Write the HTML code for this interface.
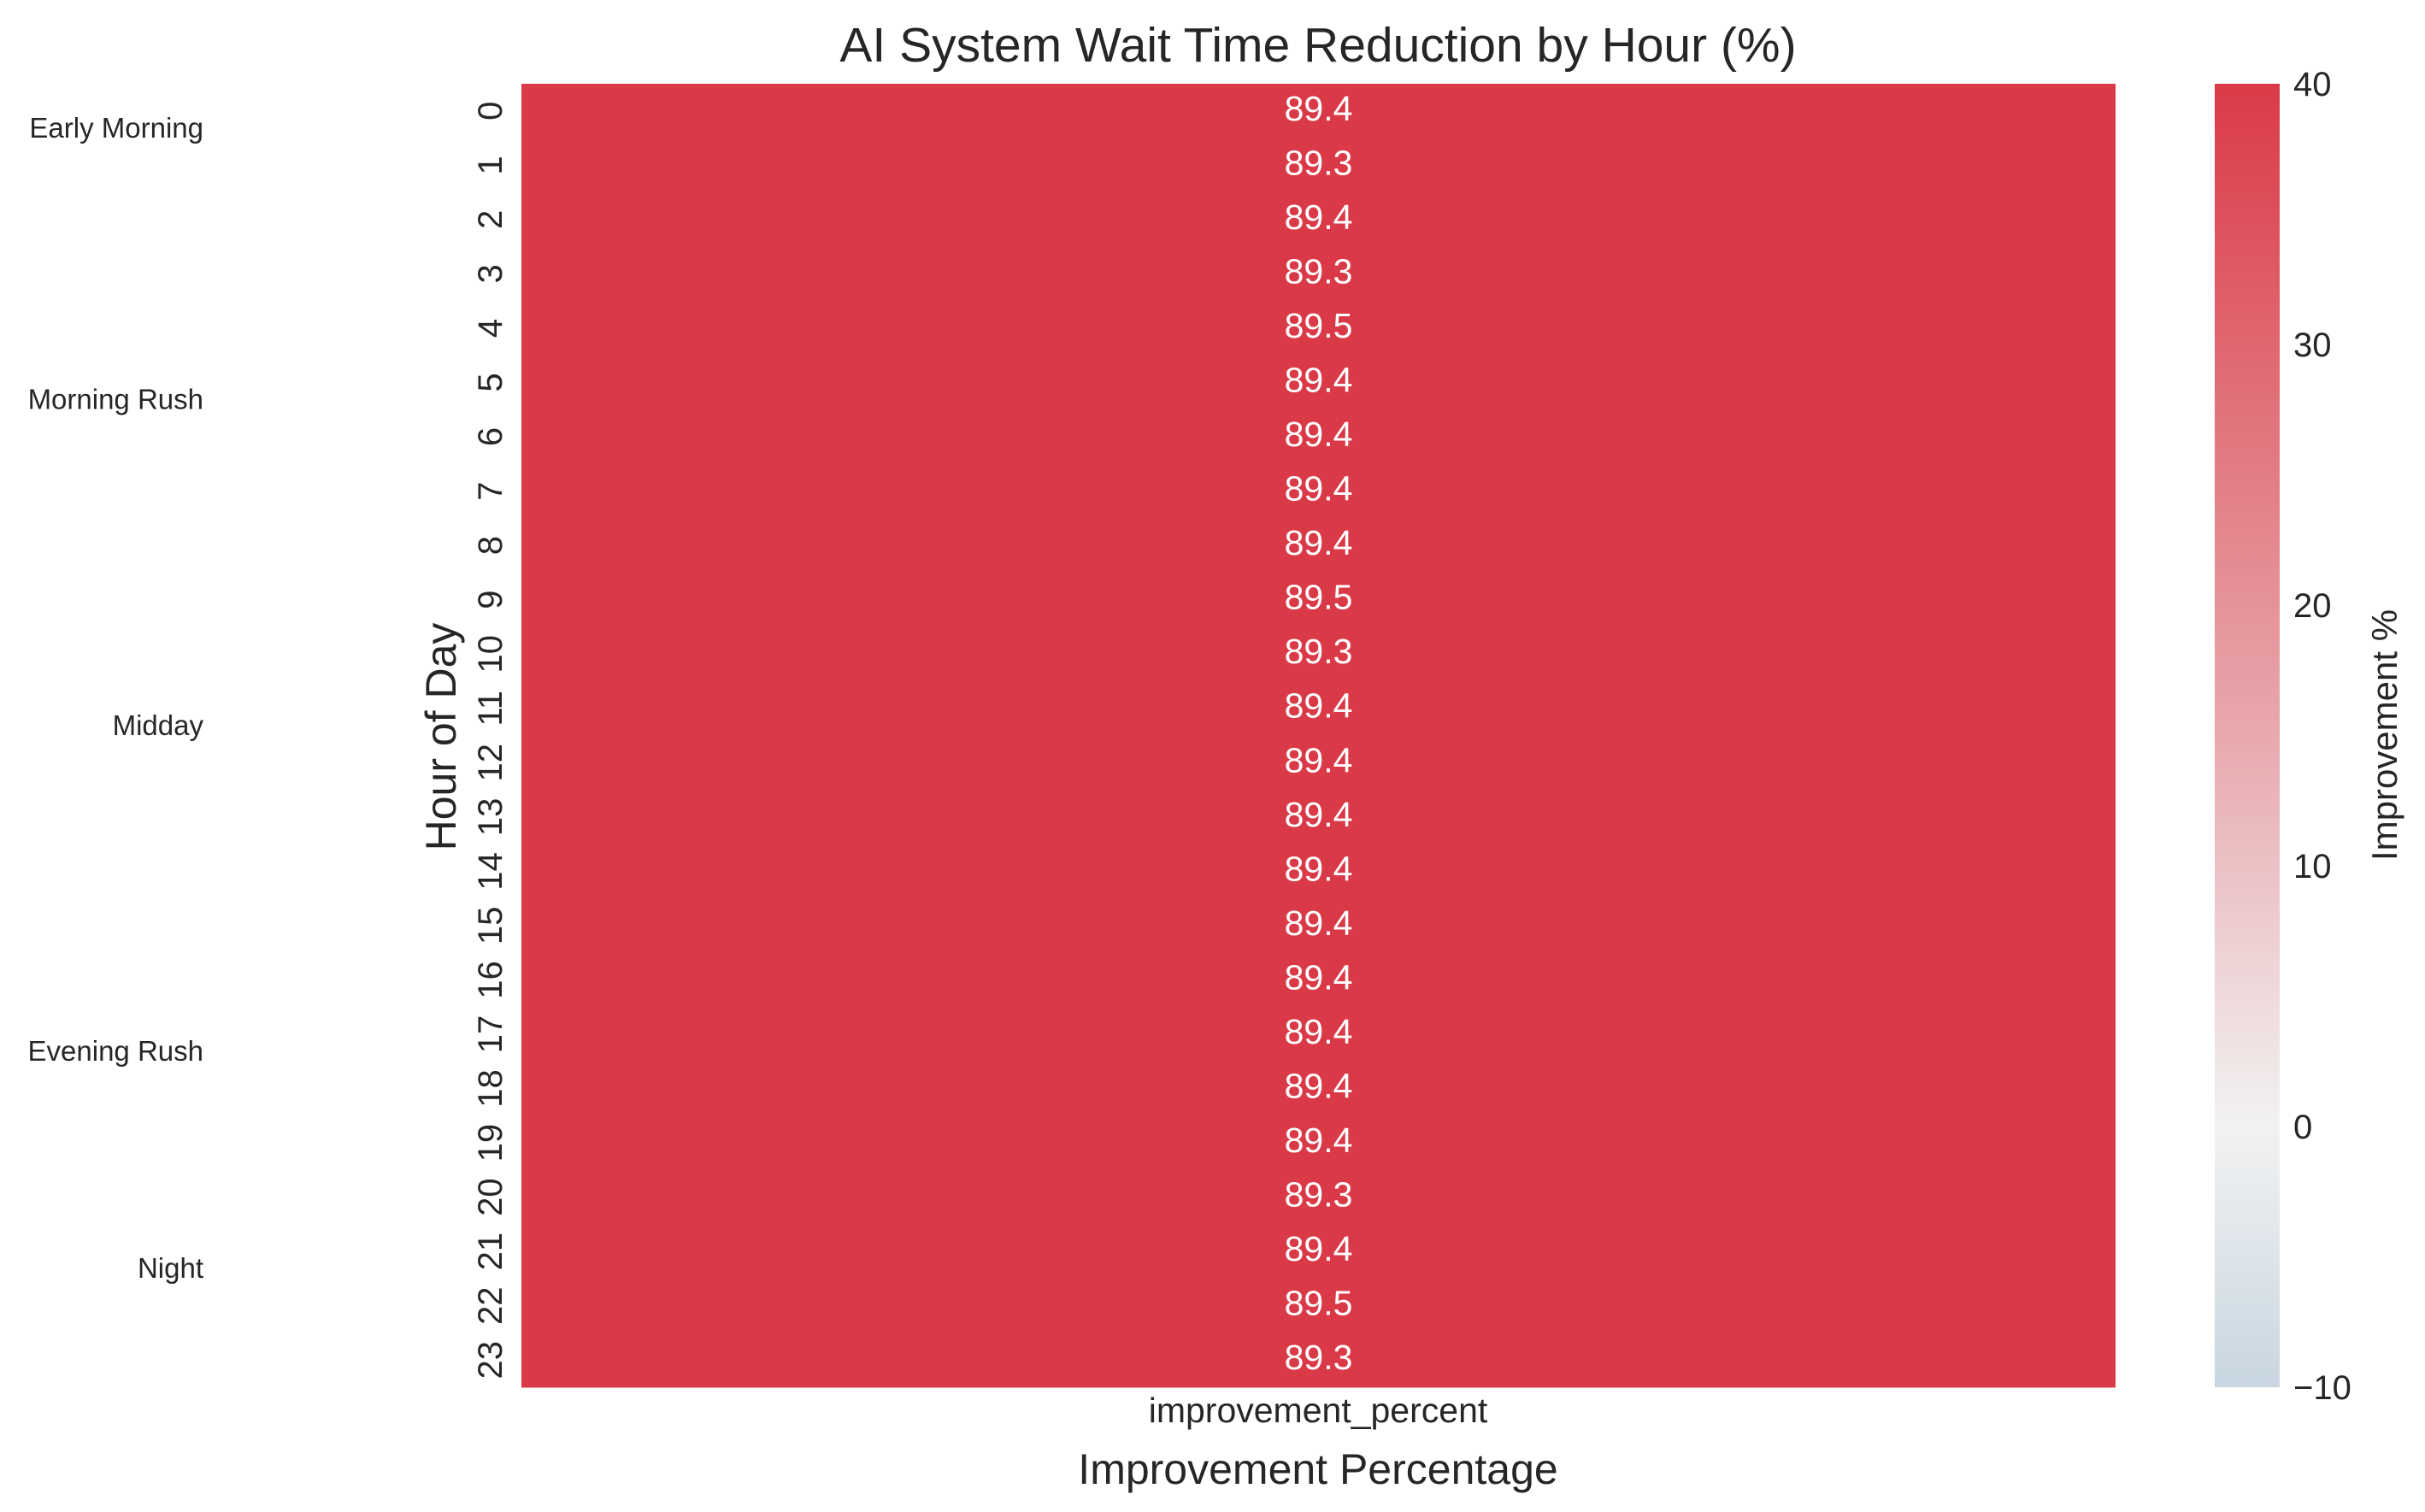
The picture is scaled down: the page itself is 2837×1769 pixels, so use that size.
<!DOCTYPE html>
<html><head><meta charset="utf-8"><style>
html,body{margin:0;padding:0;background:#fff;}
svg{display:block;font-family:"Liberation Sans",sans-serif;}
</style></head><body>
<svg id="chart" width="2837" height="1769" viewBox="0 0 2837 1769" xmlns="http://www.w3.org/2000/svg">
<defs>
<linearGradient id="cbg" x1="0" y1="1" x2="0" y2="0">
<stop offset="0" stop-color="#c8d6e1"/>
<stop offset="0.2" stop-color="#f2f2f2"/>
<stop offset="0.5" stop-color="#e8a9ae"/>
<stop offset="1" stop-color="#da3a47"/>
</linearGradient>
</defs>
<text x="1542" y="72" text-anchor="middle" font-size="57" fill="#262626">AI System Wait Time Reduction by Hour (%)</text>
<g id="cells"></g>
<text x="1542" y="1664" text-anchor="middle" font-size="41" fill="#262626">improvement_percent</text>
<text x="1542" y="1736" text-anchor="middle" font-size="50" fill="#262626">Improvement Percentage</text>
<text transform="translate(533,862) rotate(-90)" text-anchor="middle" font-size="50" fill="#262626">Hour of Day</text>
<g id="groups"></g>
<rect x="2591" y="98" width="76" height="1525" fill="url(#cbg)"/>
<g id="cbticks"></g>
<text transform="translate(2804,860) rotate(-90)" text-anchor="middle" font-size="42" fill="#262626">Improvement %</text>
</svg>
<script>
const hours = [0,1,2,3,4,5,6,7,8,9,10,11,12,13,14,15,16,17,18,19,20,21,22,23];
const values = [89.4,89.3,89.4,89.3,89.5,89.4,89.4,89.4,89.4,89.5,89.3,89.4,89.4,89.4,89.4,89.4,89.4,89.4,89.4,89.4,89.3,89.4,89.5,89.3];
const groupNames = ["Early Morning","Morning Rush","Midday","Evening Rush","Night"];
const groupPos = [0.8,5.8,11.8,17.8,21.8];
const cbTicks = [-10,0,10,20,30,40];
const NS="http://www.w3.org/2000/svg";
const L=610,R=2475,T=98,B=1623;
const rowH=(B-T)/hours.length;
const yOf=i=>T+i*rowH;
const vmin=-10,vmax=40;
const cbY=v=>B-(v-vmin)/(vmax-vmin)*(B-T);
function color(v){
  const t=Math.max(0,Math.min(1,(v-vmin)/(vmax-vmin)));
  const stops=[[0,[200,214,225]],[0.2,[242,242,242]],[0.5,[232,169,174]],[1,[218,58,71]]];
  for(let k=1;k<stops.length;k++){if(t<=stops[k][0]){const a=stops[k-1],b=stops[k];const f=(t-a[0])/(b[0]-a[0]);return 'rgb('+a[1].map((c,j)=>Math.round(c+(b[1][j]-c)*f)).join(',')+')';}}
  return 'rgb(218,58,71)';
}
const cells=document.getElementById('cells');
hours.forEach((h,i)=>{
  const r=document.createElementNS(NS,'rect');
  r.setAttribute('x',L);r.setAttribute('y',yOf(i));r.setAttribute('width',R-L);r.setAttribute('height',rowH+0.5);
  r.setAttribute('fill',color(values[i]));
  
  
  cells.appendChild(r);
  const t=document.createElementNS(NS,'text');
  t.setAttribute('x',(L+R)/2);t.setAttribute('y',yOf(i)+rowH/2+11);
  t.setAttribute('text-anchor','middle');t.setAttribute('font-size','41');t.setAttribute('fill','#fff');
  t.textContent=values[i].toFixed(1);
  
  
  cells.appendChild(t);
  const yl=document.createElementNS(NS,'text');
  const cy=yOf(i)+rowH/2;
  yl.setAttribute('transform','translate(587,'+cy+') rotate(-90)');
  yl.setAttribute('text-anchor','middle');yl.setAttribute('font-size','40');yl.setAttribute('fill','#262626');
  yl.textContent=h;
  
  
  cells.appendChild(yl);
});
const groups=document.getElementById('groups');
groupNames.forEach((g,i)=>{
  const t=document.createElementNS(NS,'text');
  t.setAttribute('x',238);t.setAttribute('y',yOf(groupPos[i])+12);
  t.setAttribute('text-anchor','end');t.setAttribute('font-size','33');t.setAttribute('fill','#262626');
  t.textContent=g;
  
  
  groups.appendChild(t);
});
const cbt=document.getElementById('cbticks');
cbTicks.forEach(v=>{
  const t=document.createElementNS(NS,'text');
  t.setAttribute('x',2683);t.setAttribute('y',cbY(v)+14);
  t.setAttribute('font-size','40');t.setAttribute('fill','#262626');
  t.textContent=v<0?'\u2212'+Math.abs(v):String(v);
  
  
  cbt.appendChild(t);
});
</script>
</body></html>
